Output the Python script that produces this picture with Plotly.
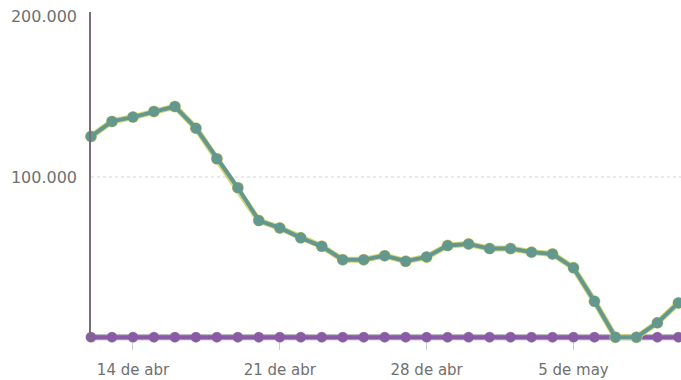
import plotly.graph_objects as go
import pandas as pd

# Daily dates, 12 Apr to 10 May
dates = pd.date_range("2020-04-12", "2020-05-10", freq="D")

casos = [125300, 134700, 137400, 140900, 144000, 130500, 111400, 93300,
         72800, 68200, 62000, 56700, 48400, 48400, 50900, 47400, 50100,
         57200, 58200, 55300, 55300, 53100, 52000, 43300, 22400, 0, 0,
         9000, 21400]
ceros = [0] * len(dates)

tick_dates = ["2020-04-14", "2020-04-21", "2020-04-28", "2020-05-05"]
tick_labels = ["14 de abr", "21 de abr", "28 de abr", "5 de may"]
y_ticks = [100000, 200000]
y_labels = ["100.000", "200.000"]

fig = go.Figure()

# grey and purple series lying on zero
fig.add_trace(go.Scatter(x=dates, y=ceros, mode="lines+markers",
                         line=dict(color="#a8a8b0", width=6),
                         marker=dict(size=11, color="#a8a8b0"),
                         cliponaxis=False, hoverinfo="skip"))
fig.add_trace(go.Scatter(x=dates, y=ceros, mode="lines+markers",
                         line=dict(color="#8a5aa6", width=4),
                         marker=dict(size=10, color="#8a5aa6"),
                         cliponaxis=False))
# yellow series under the green one
fig.add_trace(go.Scatter(x=dates, y=casos, mode="lines+markers",
                         line=dict(color="#d2d676", width=6),
                         marker=dict(size=12, color="#d2d676"),
                         cliponaxis=False, hoverinfo="skip"))
fig.add_trace(go.Scatter(x=dates, y=casos, mode="lines+markers",
                         line=dict(color="#64988e", width=4),
                         marker=dict(size=11, color="#64988e"),
                         cliponaxis=False))

fig.add_shape(type="line", xref="paper", x0=0, x1=1, yref="y",
              y0=y_ticks[0], y1=y_ticks[0],
              line=dict(color="#d4d4d4", width=1, dash="dot"), layer="below")

fig.update_layout(
    width=681, height=380,
    margin=dict(l=91, r=0, t=12, b=38),
    paper_bgcolor="white", plot_bgcolor="white",
    showlegend=False,
    font=dict(family="DejaVu Sans", size=14, color="#707070"),
)
fig.update_xaxes(
    range=["2020-04-12 00:00", "2020-05-10 03:00"],
    tickvals=tick_dates, ticktext=tick_labels,
    showgrid=False, zeroline=False, showline=False,
    ticks="outside", ticklen=7, tickcolor="#cccccc",
    ticklabelstandoff=7, automargin=False,
    tickfont=dict(size=15, color="#707070"),
)
fig.update_yaxes(
    range=[-3000, 203000],
    tickvals=y_ticks, ticktext=y_labels,
    showgrid=False, zeroline=False,
    showline=True, linecolor="#776e78", linewidth=1.5,
    ticks="", ticklabelstandoff=9, automargin=False,
    tickfont=dict(size=16, color="#707070"),
)

fig.write_html("out.html")
